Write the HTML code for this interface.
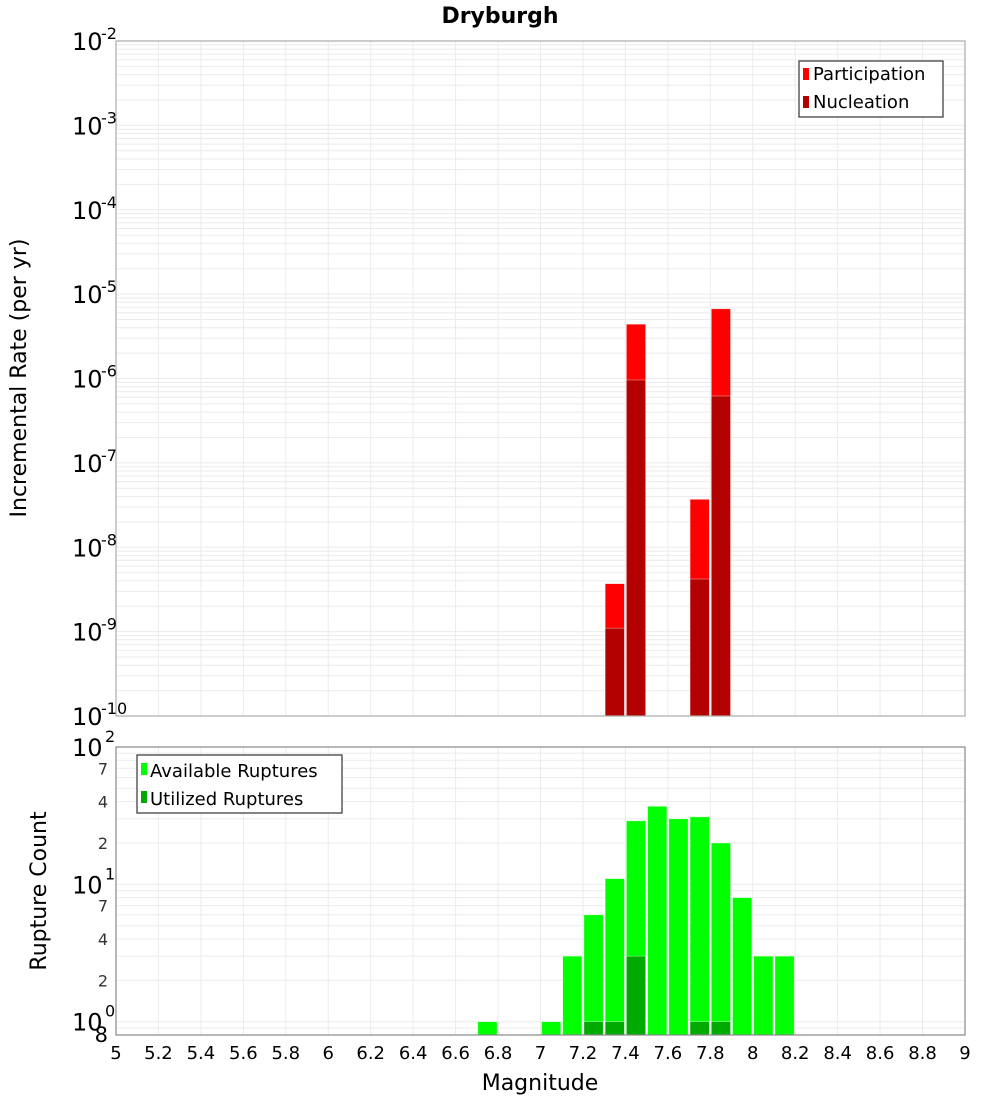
<!DOCTYPE html>
<html><head><meta charset="utf-8"><style>
body{margin:0;background:#fff}
svg{display:block;font-family:"DejaVu Sans","Liberation Sans",sans-serif}
</style></head><body>
<svg id="c" width="1000" height="1100" xmlns="http://www.w3.org/2000/svg">
<text x="500" y="23" text-anchor="middle" font-size="22" font-weight="bold">Dryburgh</text>
<g id="topPlot"></g>
<g id="botPlot"></g>
<text transform="translate(26,378) rotate(-90)" text-anchor="middle" font-size="22">Incremental Rate (per yr)</text>
<text transform="translate(46,891) rotate(-90)" text-anchor="middle" font-size="22">Rupture Count</text>
<text x="540" y="1090" text-anchor="middle" font-size="22">Magnitude</text>
<g id="xt"></g>
<g id="legs"></g>
</svg>
<script>
const partMags=[7.3,7.4,7.7,7.8];
const partVals=[3.7e-9,4.4e-6,3.7e-8,6.7e-6];
const nuclMags=[7.3,7.4,7.7,7.8];
const nuclVals=[1.1e-9,9.6e-7,4.2e-9,6.2e-7];
const availMags=[6.7,7.0,7.1,7.2,7.3,7.4,7.5,7.6,7.7,7.8,7.9,8.0,8.1];
const availVals=[1,1,3,6,11,29,37,30,31,20,8,3,3];
const usedMags=[7.2,7.3,7.4,7.7,7.8];
const usedVals=[1,1,3,1,1];
const xTicks=[5,5.2,5.4,5.6,5.8,6,6.2,6.4,6.6,6.8,7,7.2,7.4,7.6,7.8,8,8.2,8.4,8.6,8.8,9];
const topExps=[-2,-3,-4,-5,-6,-7,-8,-9,-10];
const botMinorLabels=[7,4,2];

const NS="http://www.w3.org/2000/svg";
const X0=116,X1=965;
const xs=m=>X0+(m-5)/4*(X1-X0);
const T0=41,T1=716, ty=v=>T0+(-2-Math.log10(v))/8*(T1-T0);
const B0=747,B1=1035, by=v=>B0+(2-Math.log10(v))/Math.log10(100/0.8)*(B1-B0);
function mk(p,tag,a,txt){const e=document.createElementNS(NS,tag);for(const k in a)e.setAttribute(k,a[k]);if(txt!==undefined)e.textContent=txt;p.appendChild(e);return e;}
const gTop=document.getElementById('topPlot'),gBot=document.getElementById('botPlot'),xt=document.getElementById('xt');
function frame(g,y0,y1,yf,lo,hi){
  mk(g,'rect',{x:X0,y:y0,width:X1-X0,height:y1-y0,fill:'#fff'});
  for(let e=lo;e<hi;e++)for(let k=1;k<10;k++){const v=k*Math.pow(10,e);const y=yf(v);if(y<y0-0.5||y>y1+0.5)continue;
    const l=mk(g,'line',{x1:X0,x2:X1,y1:y,y2:y,stroke:'#ebebeb','stroke-width':1});
    
    }
  xTicks.forEach(t=>{const x=xs(t);const l=mk(g,'line',{x1:x,x2:x,y1:y0,y2:y1,stroke:'#ebebeb','stroke-width':1});
    
    });
}
frame(gTop,T0,T1,ty,-10,-1);
frame(gBot,B0,B1,by,-1,2);
const bw=(X1-X0)/40;
function bars(g,mags,vals,yf,base,col,name){mags.forEach((m,i)=>{const x=xs(m)+1,y=yf(vals[i]);
  const r=mk(g,'rect',{x:x,y:y,width:bw-2,height:base-y,fill:col,stroke:'rgba(255,255,255,0.6)','stroke-width':0.6});
  
  });}
bars(gTop,partMags,partVals,ty,T1,'#ff0000','participation');
bars(gTop,nuclMags,nuclVals,ty,T1,'#b30000','nucleation');
bars(gBot,availMags,availVals,by,B1,'#00ff00','available');
bars(gBot,usedMags,usedVals,by,B1,'#00aa00','utilized');
mk(gTop,'rect',{x:X0,y:T0,width:X1-X0,height:T1-T0,fill:'none',stroke:'#aaa','stroke-width':1.2});
mk(gBot,'rect',{x:X0,y:B0,width:X1-X0,height:B1-B0,fill:'none',stroke:'#888','stroke-width':1.2});
topExps.forEach(e=>{const y=ty(Math.pow(10,e));
  const t=mk(gTop,'text',{x:72,y:y+9,'font-size':24},'10');
  
  
  const s=mk(gTop,'text',{x:101,y:y-2,'font-size':16},String(e));
  
  });
[2,1,0].forEach(e=>{const y=by(Math.pow(10,e));
  const t=mk(gBot,'text',{x:72,y:y+9,'font-size':24},'10');
  
  
  const s=mk(gBot,'text',{x:105,y:y-5,'font-size':16},String(e));
  
  
  if(e>0)botMinorLabels.forEach(k=>{const v=k*Math.pow(10,e-1);const yy=by(v);
    const m=mk(gBot,'text',{x:108,y:yy+6,'font-size':16,'text-anchor':'end',fill:'#333'},String(k));
    
    });});
{const m=mk(gBot,'text',{x:108,y:by(0.8)+7,'font-size':21,'text-anchor':'end'},'8');
 
 }
xTicks.forEach(t=>{const e=mk(xt,'text',{x:xs(t),y:1059,'font-size':18,'text-anchor':'middle'},String(t));
  
  });
const legs=document.getElementById('legs');
legs.innerHTML=`<g>
<rect x="799" y="61" width="144" height="56" fill="#fff" stroke="#333" stroke-width="1.2"/>
<rect x="803" y="68" width="6" height="12" fill="#ff0000"/>
<text x="813" y="80" font-size="18">Participation</text>
<rect x="803" y="96" width="6" height="12" fill="#b30000"/>
<text x="813" y="108" font-size="18">Nucleation</text>
</g>
<g>
<rect x="137" y="755" width="205" height="58" fill="#fff" stroke="#333" stroke-width="1.2"/>
<rect x="141" y="763" width="6" height="12" fill="#00ff00"/>
<text x="150" y="777" font-size="18">Available Ruptures</text>
<rect x="141" y="791" width="6" height="12" fill="#00aa00"/>
<text x="150" y="805" font-size="18">Utilized Ruptures</text>
</g>`;
</script>
</body></html>
